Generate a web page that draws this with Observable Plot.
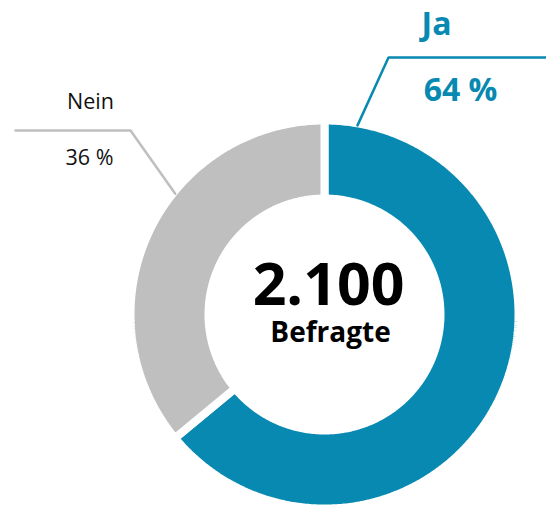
<!DOCTYPE html>
<html>
<head>
<meta charset="utf-8">
<script src="https://cdn.jsdelivr.net/npm/d3@7"></script>
<script src="https://cdn.jsdelivr.net/npm/@observablehq/plot@0.6"></script>
<style>
  html, body { margin: 0; padding: 0; background: #fff; }
  #chart svg { display: block; }
</style>
</head>
<body>
<div id="chart"></div>
<script>
// ---- data ----
const categories = ["Ja", "Nein"];
const shares = [64, 36];
const valueLabels = ["64 %", "36 %"];
const totalLabel = "2.100";
const totalCaption = "Befragte";

// ---- styling / layout ----
const colors = ["#0889B1", "#BFBFBF"];
const W = 546, H = 506;
const cx = 324, cy = 314;
const outerR = 194, innerR = 116; // stroke of 8 trims 4px on each edge
const gap = 8;
const font = "'Open Sans', 'DejaVu Sans', sans-serif";

const labelLayout = {
  Ja:   {nameX: 436, nameY: 24, valueX: 460, valueY: 90, size: 32, weight: "bold", textColor: colors[0], lineColor: colors[0],
         shelf: [[546, 57], [388, 57]], anchorDeg: 9.9, anchorR: 192},
  Nein: {nameX: 90, nameY: 102, valueX: 89, valueY: 158, size: 21.5, weight: "normal", textColor: "#111", lineColor: "#BFBFBF",
         shelf: [[15, 130], [130, 130]], anchorDeg: 309, anchorR: 192}
};

// ---- build arc polygons from pie angles ----
const pie = d3.pie().sort(null).value(d => d)(shares);
const arcPts = [];
pie.forEach((p, i) => {
  const cat = categories[i];
  const n = Math.max(8, Math.ceil((p.endAngle - p.startAngle) / 0.01));
  const ring = [];
  for (let k = 0; k <= n; k++) {
    const a = p.startAngle + (p.endAngle - p.startAngle) * k / n;
    ring.push({cat, x: cx + outerR * Math.sin(a), y: cy - outerR * Math.cos(a)});
  }
  for (let k = n; k >= 0; k--) {
    const a = p.startAngle + (p.endAngle - p.startAngle) * k / n;
    ring.push({cat, x: cx + innerR * Math.sin(a), y: cy - innerR * Math.cos(a)});
  }
  ring.push({...ring[0]});
  arcPts.push(...ring);
});

// ---- leader lines ----
const leaderPts = [];
categories.forEach(cat => {
  const L = labelLayout[cat];
  const a = L.anchorDeg * Math.PI / 180;
  L.shelf.forEach(([x, y]) => leaderPts.push({cat, x, y}));
  leaderPts.push({cat, x: cx + L.anchorR * Math.sin(a), y: cy - L.anchorR * Math.cos(a)});
});

const labelRows = categories.map((cat, i) => ({cat, name: cat, value: valueLabels[i], ...labelLayout[cat]}));

const textMarks = labelRows.flatMap(r => [
  Plot.text([r], {x: "nameX", y: "nameY", text: "name", fill: r.textColor, fontSize: r.size, fontWeight: r.weight, fontFamily: font, textAnchor: "middle", lineAnchor: "middle"}),
  Plot.text([r], {x: "valueX", y: "valueY", text: "value", fill: r.textColor, fontSize: r.size, fontWeight: r.weight, fontFamily: font, textAnchor: "middle", lineAnchor: "middle"})
]);

const chart = Plot.plot({
  width: W,
  height: H,
  margin: 0,
  x: {domain: [0, W], range: [0, W], axis: null},
  y: {domain: [0, H], range: [0, H], axis: null},
  color: {domain: categories, range: colors},
  style: {background: "#fff", fontFamily: font},
  marks: [
    Plot.line(arcPts, {x: "x", y: "y", z: "cat", fill: "cat", stroke: "white", strokeWidth: gap, strokeLinejoin: "miter", curve: "linear"}),
    ...categories.map(cat => Plot.line(leaderPts.filter(d => d.cat === cat), {x: "x", y: "y", stroke: labelLayout[cat].lineColor, strokeWidth: 2.5, strokeLinejoin: "miter"})),
    ...textMarks,
    Plot.text([{t: totalLabel}], {x: () => 328, y: () => 286, text: "t", fontSize: 59, fontWeight: "bold", fill: "#000", fontFamily: font, textAnchor: "middle", lineAnchor: "middle"}),
    Plot.text([{t: totalCaption}], {x: () => 330, y: () => 333, text: "t", fontSize: 28, fontWeight: "bold", fill: "#000", fontFamily: font, textAnchor: "middle", lineAnchor: "middle"})
  ]
});
document.getElementById("chart").appendChild(chart);
</script>
</body>
</html>
